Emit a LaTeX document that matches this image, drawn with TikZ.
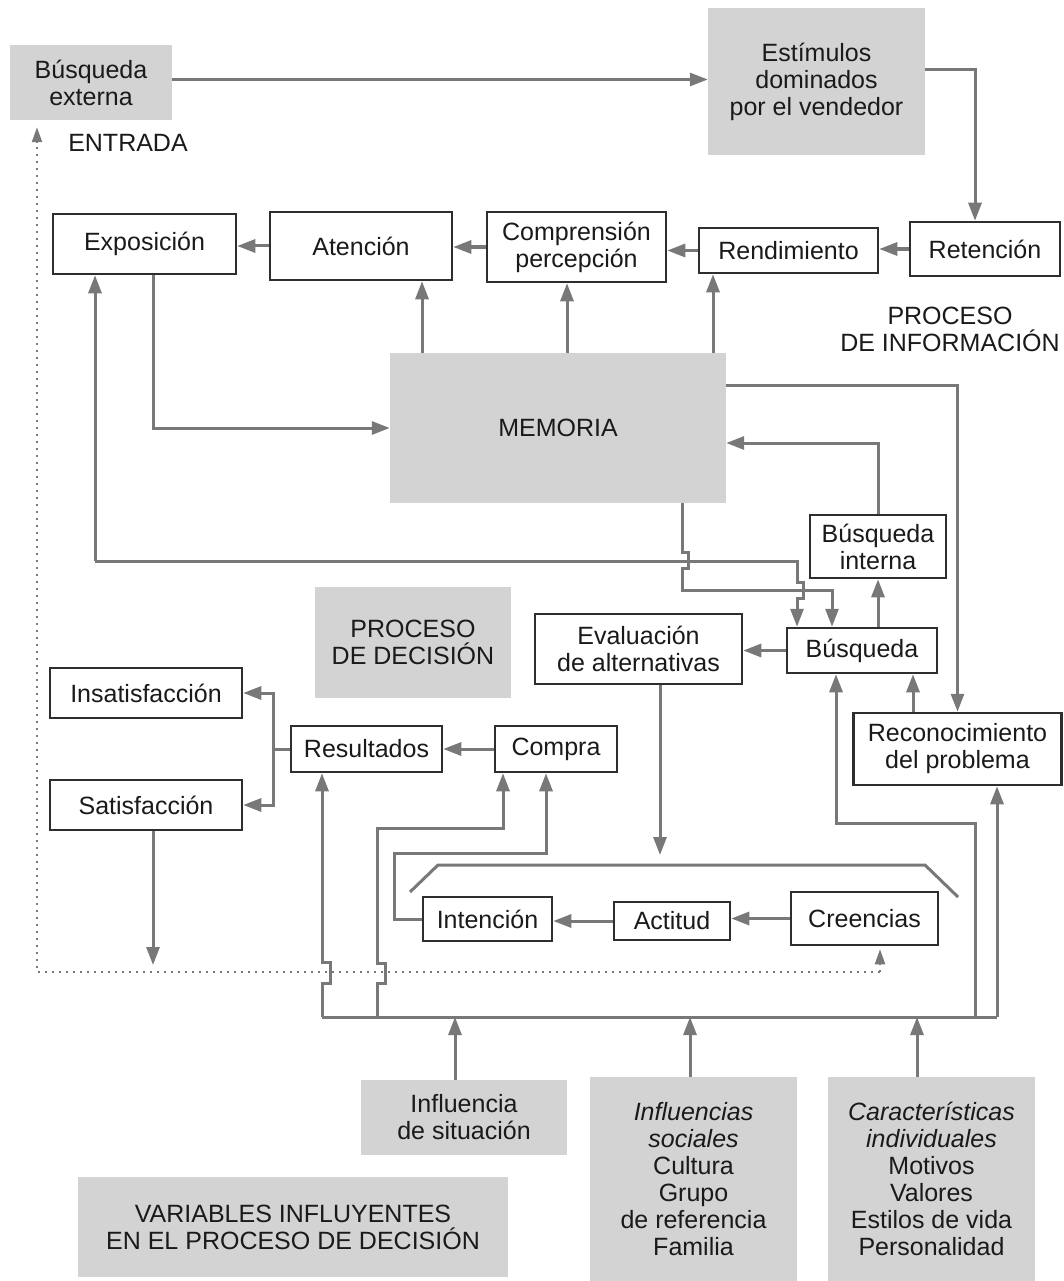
\documentclass[tikz,border=0pt]{standalone}
\usepackage{fontspec}
\setmainfont{Liberation Sans}
\usetikzlibrary{arrows.meta}
\definecolor{grayf}{HTML}{D3D3D3}
\definecolor{linec}{HTML}{787878}
\definecolor{boxc}{HTML}{2E2E2E}
\definecolor{txtc}{HTML}{1A1A1A}
\begin{document}
\begin{tikzpicture}[x=1pt,y=-1pt,
  every node/.style={font=\fontsize{25}{27}\selectfont, text=txtc, align=center, inner sep=0pt},
  wbox/.style={draw=boxc, line width=2.5pt, fill=white},
  gbox/.style={fill=grayf},
  ln/.style={draw=linec, line width=3pt},
  arr/.style={ln, -{Triangle[length=18pt,width=13pt]}},
  dotln/.style={draw=linec, line width=2.2pt, dash pattern=on 2pt off 5pt},
  dotarr/.style={dotln, -{Triangle[length=15pt,width=10pt]}}]
\useasboundingbox (0,0) rectangle (1063,1281);

% gray boxes
\node[gbox, minimum width=162pt, minimum height=75pt] (bext) at (91,82.5) {Búsqueda\\externa};
\node[gbox, minimum width=217pt, minimum height=147pt] (estim) at (816.5,81.5) {Estímulos\\dominados\\por el vendedor};
\node[gbox, minimum width=336pt, minimum height=150pt] (mem) at (558,428) {MEMORIA};
\node[gbox, minimum width=196pt, minimum height=111pt] (pdec) at (413,642.5) {PROCESO\\DE DECISIÓN};
\node[gbox, minimum width=206pt, minimum height=75pt] (infsit) at (464,1117.5) {Influencia\\de situación};
\node[gbox, minimum width=207pt, minimum height=204pt] (infsoc) at (693.5,1179) {\textit{Influencias}\\\textit{sociales}\\Cultura\\Grupo\\de referencia\\Familia};
\node[gbox, minimum width=207pt, minimum height=204pt] (caract) at (931.5,1179) {\textit{Características}\\\textit{individuales}\\Motivos\\Valores\\Estilos de vida\\Personalidad};
\node[gbox, minimum width=430pt, minimum height=100pt] (vars) at (293,1227) {VARIABLES INFLUYENTES\\EN EL PROCESO DE DECISIÓN};

% plain labels
\node (entr) at (128,143) {ENTRADA};
\node (pinfo) at (950,329) {PROCESO\\DE INFORMACIÓN};

% white boxes
\node[wbox, minimum width=150pt, minimum height=54pt] (reten) at (985,249) {Retención};
\node[wbox, minimum width=179pt, minimum height=45pt] (rend) at (788.5,250.5) {Rendimiento};
\node[wbox, minimum width=179pt, minimum height=70pt] (compr) at (576.5,247) {Comprensión\\percepción};
\node[wbox, minimum width=182pt, minimum height=68pt] (atenc) at (361,246) {Atención};
\node[wbox, minimum width=183pt, minimum height=60pt] (expos) at (144.5,244) {Exposición};
\node[wbox, minimum width=136pt, minimum height=63pt] (bint) at (878,546.5) {Búsqueda\\interna};
\node[wbox, minimum width=150pt, minimum height=45pt] (busq) at (862,650.5) {Búsqueda};
\node[wbox, minimum width=207pt, minimum height=70pt] (evalu) at (638.5,649) {Evaluación\\de alternativas};
\node[wbox, minimum width=208pt, minimum height=72pt] (recon) at (957.5,749) {Reconocimiento\\del problema};
\node[wbox, minimum width=192pt, minimum height=50pt] (insat) at (146,693) {Insatisfacción};
\node[wbox, minimum width=192pt, minimum height=50pt] (satis) at (146,805) {Satisfacción};
\node[wbox, minimum width=151pt, minimum height=46pt] (resul) at (366.5,749) {Resultados};
\node[wbox, minimum width=122pt, minimum height=46pt] (compra) at (556,749) {Compra};
\node[wbox, minimum width=129pt, minimum height=44pt] (intenc) at (487.5,919) {Intención};
\node[wbox, minimum width=116pt, minimum height=38pt] (actit) at (672,921) {Actitud};
\node[wbox, minimum width=147pt, minimum height=53pt] (creen) at (864.5,918.5) {Creencias};

% information process
\draw[arr] ([yshift=3pt]bext.east) -- ([yshift=3pt]bext.east -| estim.west);
\draw[arr] ([yshift=11.5pt]estim.east) -| ([xshift=-10pt]reten.north);
\draw[arr] (reten.west) -- (reten.west -| rend.east);
\draw[arr] (rend.west) -- (rend.west -| compr.east);
\draw[arr] (compr.west) -- (compr.west -| atenc.east);
\draw[arr] (atenc.west) -- (atenc.west -| expos.east);
\draw[arr] ([xshift=-136pt]mem.north) -- ([xshift=-136pt]mem.north |- atenc.south);
\draw[arr] ([xshift=9pt]mem.north) -- ([xshift=9pt]mem.north |- compr.south);
\draw[arr] ([xshift=155pt]mem.north) -- ([xshift=155pt]mem.north |- rend.south);
\draw[arr] ([xshift=8.5pt]expos.south) |- (mem.west);
\draw[arr] ([yshift=43pt]mem.east) -| (recon.north);
\draw[arr] (bint.north) |- ([yshift=-15pt]mem.east);
\draw[arr] (bint.south |- busq.north) -- (bint.south);

% crossing lines
\coordinate (e1) at (95,561);
\draw[arr] (e1) -- (e1 |- expos.south);
\draw[arr] (e1) -- (797,561) -- (797,582) -- (803,582) -- (803,598) -- (797,598) -- ([xshift=-65pt]busq.north);
\draw[arr] ([xshift=124pt]mem.south) -- (682,552) -- (688,552) -- (688,568) -- (682,568) -- (682,590) -- (832,590) -- ([xshift=-30pt]busq.north);

% decision process
\draw[arr] (busq.west) -- (busq.west -| evalu.east);
\coordinate (ev1) at (660,855);
\draw[arr] ([xshift=21.5pt]evalu.south) -- (ev1);
\draw[arr] ([xshift=-44.5pt]recon.north) -- ([xshift=-44.5pt]recon.north |- busq.south);

% bus
\coordinate (bl) at (322,1017);
\coordinate (br) at (997,1017);
\draw[ln] (bl) -- (br);
\draw[arr] (br) -- (br |- recon.south);
\draw[arr] (975,1017) -- (975,823) -- (836,823) -- ([xshift=-26pt]busq.south);
\draw[arr] ([xshift=-9pt]infsit.north) -- ([xshift=-9pt]infsit.north |- bl);
\draw[arr] ([xshift=-3.5pt]infsoc.north) -- ([xshift=-3.5pt]infsoc.north |- bl);
\draw[arr] ([xshift=-14.5pt]caract.north) -- ([xshift=-14.5pt]caract.north |- bl);
\draw[arr] (bl) -- (322,983) -- (330,983) -- (330,962) -- (322,962) -- ([xshift=-44.5pt]resul.south);
\draw[arr] (377,1017) -- (377,983) -- (385,983) -- (385,963) -- (377,963) -- (377,828) -- (503,828) -- ([xshift=-53pt]compra.south);
\draw[arr] (intenc.west) -- (394,919) -- (394,853) -- (546,853) -- ([xshift=-10pt]compra.south);
\draw[arr] (compra.west) -- (compra.west -| resul.east);
\coordinate (rj) at (273,749);
\draw[ln] (resul.west) -- (rj);
\draw[arr] (rj) |- (insat.east);
\draw[arr] (rj) |- (satis.east);
\coordinate (s1) at (153,965);
\draw[arr] ([xshift=7pt]satis.south) -- (s1);
\draw[arr] (creen.west) -- (creen.west -| actit.east);
\draw[arr] (actit.west) -- (actit.west -| intenc.east);

% bracket
\draw[ln] (410,892) -- (438,865) -- (925,865) -- (958,897);

% dotted feedback
\coordinate (d1) at (880,972);
\draw[dotarr] (d1) -- (37,972) -- ([xshift=-54pt,yshift=-7pt]bext.south);
\draw[dotarr] (d1) -- ([yshift=-3pt]d1 |- creen.south);
\end{tikzpicture}
\end{document}
